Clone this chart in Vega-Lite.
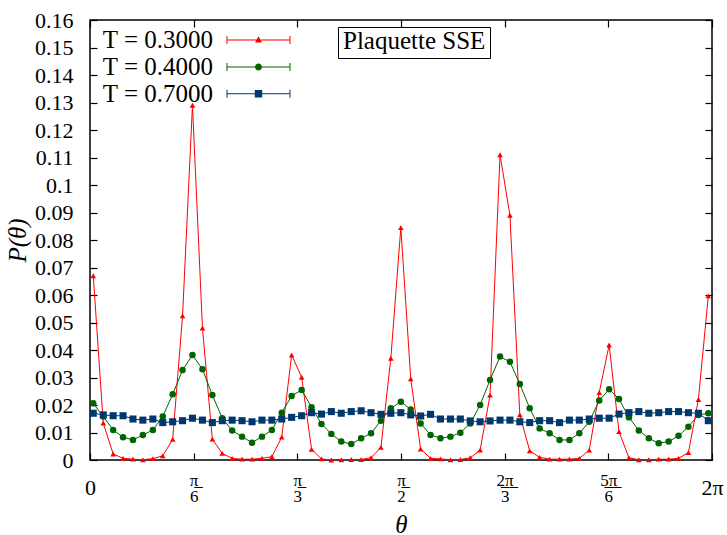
{
  "$schema": "https://vega.github.io/schema/vega-lite/v6.json",
  "width": 622,
  "height": 440,
  "autosize": {"type": "none"},
  "padding": {"left": 90, "top": 20, "right": 15, "bottom": 75},
  "config": {
    "view": {"stroke": "black", "strokeWidth": 1.5},
    "font": "Liberation Serif"
  },
  "data": {"values": [
    {"s":"r","t":0.033,"p":0.067},{"s":"r","t":0.134,"p":0.0134},{"s":"r","t":0.234,"p":0.0022},{"s":"r","t":0.334,"p":0.0006},{"s":"r","t":0.434,"p":0.0003},{"s":"r","t":0.534,"p":0.0001},{"s":"r","t":0.635,"p":0.0005},{"s":"r","t":0.735,"p":0.0015},{"s":"r","t":0.835,"p":0.0075},{"s":"r","t":0.935,"p":0.0524},
    {"s":"r","t":1.035,"p":0.129},{"s":"r","t":1.136,"p":0.048},{"s":"r","t":1.236,"p":0.0076},{"s":"r","t":1.336,"p":0.0024},{"s":"r","t":1.436,"p":0.0006},{"s":"r","t":1.536,"p":0.0003},{"s":"r","t":1.637,"p":0.0003},{"s":"r","t":1.737,"p":0.0006},{"s":"r","t":1.837,"p":0.0012},{"s":"r","t":1.937,"p":0.0083},
    {"s":"r","t":2.037,"p":0.0382},{"s":"r","t":2.138,"p":0.0301},{"s":"r","t":2.238,"p":0.0039},{"s":"r","t":2.338,"p":0.0004},{"s":"r","t":2.438,"p":0.0},{"s":"r","t":2.538,"p":0.0001},{"s":"r","t":2.639,"p":0.0002},{"s":"r","t":2.739,"p":0.0002},{"s":"r","t":2.839,"p":0.0008},{"s":"r","t":2.939,"p":0.0046},
    {"s":"r","t":3.039,"p":0.037},{"s":"r","t":3.140,"p":0.0845},{"s":"r","t":3.240,"p":0.0295},{"s":"r","t":3.340,"p":0.004},{"s":"r","t":3.440,"p":0.0006},{"s":"r","t":3.540,"p":0.0004},{"s":"r","t":3.641,"p":0.0001},{"s":"r","t":3.741,"p":0.0002},{"s":"r","t":3.841,"p":0.0008},{"s":"r","t":3.941,"p":0.0036},
    {"s":"r","t":4.041,"p":0.0236},{"s":"r","t":4.142,"p":0.111},{"s":"r","t":4.242,"p":0.089},{"s":"r","t":4.342,"p":0.0164},{"s":"r","t":4.442,"p":0.0033},{"s":"r","t":4.542,"p":0.001},{"s":"r","t":4.643,"p":0.0003},{"s":"r","t":4.743,"p":0.0003},{"s":"r","t":4.843,"p":0.0003},{"s":"r","t":4.943,"p":0.0006},
    {"s":"r","t":5.043,"p":0.0036},{"s":"r","t":5.144,"p":0.0245},{"s":"r","t":5.244,"p":0.0418},{"s":"r","t":5.344,"p":0.0103},{"s":"r","t":5.444,"p":0.0008},{"s":"r","t":5.544,"p":0.0001},{"s":"r","t":5.645,"p":0.0001},{"s":"r","t":5.745,"p":0.0003},{"s":"r","t":5.845,"p":0.0003},{"s":"r","t":5.945,"p":0.0006},
    {"s":"r","t":6.045,"p":0.0027},{"s":"r","t":6.146,"p":0.022},{"s":"r","t":6.246,"p":0.0597},
    {"s":"g","t":0.033,"p":0.0206},{"s":"g","t":0.134,"p":0.0158},{"s":"g","t":0.234,"p":0.0109},{"s":"g","t":0.334,"p":0.0083},{"s":"g","t":0.434,"p":0.0073},{"s":"g","t":0.534,"p":0.0091},{"s":"g","t":0.635,"p":0.0109},{"s":"g","t":0.735,"p":0.0158},{"s":"g","t":0.835,"p":0.0239},{"s":"g","t":0.935,"p":0.0327},
    {"s":"g","t":1.035,"p":0.0382},{"s":"g","t":1.136,"p":0.033},{"s":"g","t":1.236,"p":0.0236},{"s":"g","t":1.336,"p":0.0152},{"s":"g","t":1.436,"p":0.0107},{"s":"g","t":1.536,"p":0.0085},{"s":"g","t":1.637,"p":0.0063},{"s":"g","t":1.737,"p":0.0085},{"s":"g","t":1.837,"p":0.0109},{"s":"g","t":1.937,"p":0.0172},
    {"s":"g","t":2.037,"p":0.0233},{"s":"g","t":2.138,"p":0.0255},{"s":"g","t":2.238,"p":0.0192},{"s":"g","t":2.338,"p":0.0131},{"s":"g","t":2.438,"p":0.0095},{"s":"g","t":2.538,"p":0.0067},{"s":"g","t":2.639,"p":0.0058},{"s":"g","t":2.739,"p":0.0079},{"s":"g","t":2.839,"p":0.0097},{"s":"g","t":2.939,"p":0.0143},
    {"s":"g","t":3.039,"p":0.0188},{"s":"g","t":3.140,"p":0.0212},{"s":"g","t":3.240,"p":0.0184},{"s":"g","t":3.340,"p":0.0133},{"s":"g","t":3.440,"p":0.0091},{"s":"g","t":3.540,"p":0.0079},{"s":"g","t":3.641,"p":0.0085},{"s":"g","t":3.741,"p":0.0099},{"s":"g","t":3.841,"p":0.0133},{"s":"g","t":3.941,"p":0.02},
    {"s":"g","t":4.041,"p":0.0291},{"s":"g","t":4.142,"p":0.0376},{"s":"g","t":4.242,"p":0.0357},{"s":"g","t":4.342,"p":0.0276},{"s":"g","t":4.442,"p":0.0188},{"s":"g","t":4.542,"p":0.0115},{"s":"g","t":4.643,"p":0.0097},{"s":"g","t":4.743,"p":0.0073},{"s":"g","t":4.843,"p":0.0073},{"s":"g","t":4.943,"p":0.0097},
    {"s":"g","t":5.043,"p":0.0139},{"s":"g","t":5.144,"p":0.0216},{"s":"g","t":5.244,"p":0.0257},{"s":"g","t":5.344,"p":0.0222},{"s":"g","t":5.444,"p":0.0155},{"s":"g","t":5.544,"p":0.0107},{"s":"g","t":5.645,"p":0.0079},{"s":"g","t":5.745,"p":0.0061},{"s":"g","t":5.845,"p":0.0067},{"s":"g","t":5.945,"p":0.0088},
    {"s":"g","t":6.045,"p":0.0121},{"s":"g","t":6.146,"p":0.0164},{"s":"g","t":6.246,"p":0.017},
    {"s":"b","t":0.033,"p":0.017},{"s":"b","t":0.134,"p":0.0164},{"s":"b","t":0.234,"p":0.0161},{"s":"b","t":0.334,"p":0.0161},{"s":"b","t":0.434,"p":0.0149},{"s":"b","t":0.534,"p":0.0145},{"s":"b","t":0.635,"p":0.0149},{"s":"b","t":0.735,"p":0.0136},{"s":"b","t":0.835,"p":0.0139},{"s":"b","t":0.935,"p":0.0143},
    {"s":"b","t":1.035,"p":0.0152},{"s":"b","t":1.136,"p":0.0145},{"s":"b","t":1.236,"p":0.0136},{"s":"b","t":1.336,"p":0.0143},{"s":"b","t":1.436,"p":0.0145},{"s":"b","t":1.536,"p":0.0143},{"s":"b","t":1.637,"p":0.0139},{"s":"b","t":1.737,"p":0.0145},{"s":"b","t":1.837,"p":0.0145},{"s":"b","t":1.937,"p":0.0149},
    {"s":"b","t":2.037,"p":0.0155},{"s":"b","t":2.138,"p":0.0161},{"s":"b","t":2.238,"p":0.0172},{"s":"b","t":2.338,"p":0.0167},{"s":"b","t":2.438,"p":0.0176},{"s":"b","t":2.538,"p":0.017},{"s":"b","t":2.639,"p":0.0176},{"s":"b","t":2.739,"p":0.0179},{"s":"b","t":2.839,"p":0.0172},{"s":"b","t":2.939,"p":0.0166},
    {"s":"b","t":3.039,"p":0.017},{"s":"b","t":3.140,"p":0.0172},{"s":"b","t":3.240,"p":0.0164},{"s":"b","t":3.340,"p":0.016},{"s":"b","t":3.440,"p":0.0166},{"s":"b","t":3.540,"p":0.0149},{"s":"b","t":3.641,"p":0.0149},{"s":"b","t":3.741,"p":0.0149},{"s":"b","t":3.841,"p":0.0142},{"s":"b","t":3.941,"p":0.0139},
    {"s":"b","t":4.041,"p":0.0142},{"s":"b","t":4.142,"p":0.0145},{"s":"b","t":4.242,"p":0.0145},{"s":"b","t":4.342,"p":0.0139},{"s":"b","t":4.442,"p":0.0136},{"s":"b","t":4.542,"p":0.0143},{"s":"b","t":4.643,"p":0.0143},{"s":"b","t":4.743,"p":0.0136},{"s":"b","t":4.843,"p":0.0145},{"s":"b","t":4.943,"p":0.0145},
    {"s":"b","t":5.043,"p":0.0149},{"s":"b","t":5.144,"p":0.0152},{"s":"b","t":5.244,"p":0.0152},{"s":"b","t":5.344,"p":0.0167},{"s":"b","t":5.444,"p":0.0172},{"s":"b","t":5.544,"p":0.0176},{"s":"b","t":5.645,"p":0.017},{"s":"b","t":5.745,"p":0.0172},{"s":"b","t":5.845,"p":0.0176},{"s":"b","t":5.945,"p":0.0176},
    {"s":"b","t":6.045,"p":0.0172},{"s":"b","t":6.146,"p":0.017},{"s":"b","t":6.246,"p":0.0143}
  ]},
  "layer": [
    {
      "mark": {"type": "line", "strokeWidth": 1, "clip": true},
      "encoding": {
        "x": {"field": "t", "type": "quantitative",
          "scale": {"domain": [0, 6.2832], "nice": false, "zero": false},
          "axis": {"orient": "bottom", "values": [0, 1.0472, 2.0944, 3.1416, 4.1888, 5.236, 6.2832],
            "domain": false, "grid": false, "tickColor": "black", "tickWidth": 1.2, "tickSize": -7,
            "labelExpr": "['0', ['π̲','6'], ['π̲','3'], ['π̲','2'], ['2̲π̲','3'], ['5̲π̲','6'], '2π'][round(datum.value*3/PI)]",
            "labelFont": "Liberation Serif", "labelColor": "black",
            "labelFontSize": {"condition": {"test": "datum.value < 0.5 || datum.value > 6", "value": 22}, "value": 17},
            "labelPadding": {"condition": {"test": "datum.value < 0.5 || datum.value > 6", "value": 34}, "value": 27},
            "labelLineHeight": 16, "labelBaseline": "middle", "labelFlush": false, "labelOverlap": false,
            "title": "θ", "titleFont": "Liberation Serif", "titleFontSize": 25, "titleFontStyle": "italic",
            "titleFontWeight": "normal", "titleColor": "black", "titlePadding": 8}},
        "y": {"field": "p", "type": "quantitative",
          "scale": {"domain": [0, 0.16], "nice": false},
          "axis": {"orient": "left", "values": [0,0.01,0.02,0.03,0.04,0.05,0.06,0.07,0.08,0.09,0.1,0.11,0.12,0.13,0.14,0.15,0.16],
            "format": ".2~f", "domain": false, "grid": false, "tickColor": "black", "tickWidth": 1.2, "tickSize": -7,
            "labelFont": "Liberation Serif", "labelColor": "black", "labelFontSize": 22, "labelPadding": 24,
            "labelFlush": false, "labelOverlap": false,
            "title": "P(θ)", "titleFont": "Liberation Serif", "titleFontSize": 25, "titleFontStyle": "italic",
            "titleFontWeight": "normal", "titleColor": "black", "titlePadding": 4}},
        "color": {"field": "s", "type": "nominal",
          "scale": {"domain": ["b", "g", "r"], "range": ["#00386e", "#006400", "#ff0000"]},
          "legend": null}
      }
    },
    {
      "transform": [{"filter": "datum.s == 'r'"}],
      "mark": {"type": "point", "filled": true, "opacity": 1, "shape": "triangle-up", "size": 32},
      "encoding": {
        "x": {"field": "t", "type": "quantitative", "axis": null},
        "y": {"field": "p", "type": "quantitative", "axis": null},
        "color": {"field": "s", "type": "nominal", "legend": null}
      }
    },
    {
      "transform": [{"filter": "datum.s == 'g'"}],
      "mark": {"type": "point", "filled": true, "opacity": 1, "shape": "circle", "size": 42},
      "encoding": {
        "x": {"field": "t", "type": "quantitative", "axis": null},
        "y": {"field": "p", "type": "quantitative", "axis": null},
        "color": {"field": "s", "type": "nominal", "legend": null}
      }
    },
    {
      "transform": [{"filter": "datum.s == 'b'"}],
      "mark": {"type": "point", "filled": true, "opacity": 1, "shape": "square", "size": 50},
      "encoding": {
        "x": {"field": "t", "type": "quantitative", "axis": null},
        "y": {"field": "p", "type": "quantitative", "axis": null},
        "color": {"field": "s", "type": "nominal", "legend": null}
      }
    },
    {
      "mark": {"type": "point", "filled": true, "opacity": 0},
      "encoding": {
        "x": {"field": "t", "type": "quantitative",
          "axis": {"orient": "top", "values": [0, 1.0472, 2.0944, 3.1416, 4.1888, 5.236, 6.2832],
            "labels": false, "title": null, "domain": false, "grid": false,
            "tickColor": "black", "tickWidth": 1.2, "tickSize": -7}},
        "y": {"field": "p", "type": "quantitative",
          "axis": {"orient": "right", "values": [0,0.01,0.02,0.03,0.04,0.05,0.06,0.07,0.08,0.09,0.1,0.11,0.12,0.13,0.14,0.15,0.16],
            "labels": false, "title": null, "domain": false, "grid": false,
            "tickColor": "black", "tickWidth": 1.2, "tickSize": -7}},
        "fill": {"field": "s", "type": "nominal",
          "scale": {"domain": ["r", "g", "b"], "range": ["#ff0000", "#006400", "#00386e"]},
          "legend": {"orient": "none", "legendX": 156, "legendY": 7.5, "title": null, "padding": 0,
            "symbolSize": 100, "symbolStrokeWidth": 0, "symbolOpacity": 1, "rowPadding": 0.9,
            "labelAlign": "right", "labelOffset": -58, "labelFont": "Liberation Serif", "labelFontSize": 25,
            "labelColor": "black", "labelLimit": 300,
            "labelExpr": "datum.value == 'r' ? 'T = 0.3000' : datum.value == 'g' ? 'T = 0.4000' : 'T = 0.7000'"}},
        "shape": {"field": "s", "type": "nominal",
          "scale": {"domain": ["r", "g", "b"], "range": [
            "M-6.3,-0.1H6.3V0.1H-6.3ZM-6.4,-0.8H-6.2V0.8H-6.4ZM6.2,-0.8H6.4V0.8H6.2ZM0,-0.75L0.7,0.5L-0.7,0.5Z",
            "M-6.3,-0.1H6.3V0.1H-6.3ZM-6.4,-0.8H-6.2V0.8H-6.4ZM6.2,-0.8H6.4V0.8H6.2ZM0.7,0A0.7,0.7 0 1,1 -0.7,0A0.7,0.7 0 1,1 0.7,0Z",
            "M-6.3,-0.1H6.3V0.1H-6.3ZM-6.4,-0.8H-6.2V0.8H-6.4ZM6.2,-0.8H6.4V0.8H6.2ZM-0.74,-0.74H0.74V0.74H-0.74Z"]},
          "legend": {"orient": "none", "legendX": 156, "legendY": 7.5, "title": null, "padding": 0,
            "symbolSize": 100, "symbolStrokeWidth": 0, "symbolOpacity": 1, "rowPadding": 0.9,
            "labelAlign": "right", "labelOffset": -58, "labelFont": "Liberation Serif", "labelFontSize": 25,
            "labelColor": "black", "labelLimit": 300,
            "labelExpr": "datum.value == 'r' ? 'T = 0.3000' : datum.value == 'g' ? 'T = 0.4000' : 'T = 0.7000'"}}
      }
    },
    {
      "data": {"values": [{"lab": "Plaquette SSE"}]},
      "mark": {"type": "point", "opacity": 0, "shape": "M0,0Z"},
      "encoding": {
        "strokeDash": {"field": "lab", "type": "nominal",
          "legend": {"orient": "none", "legendX": 248, "legendY": 7, "title": null,
            "strokeColor": "black", "padding": 4, "symbolSize": 1, "symbolStrokeWidth": 0, "symbolOpacity": 0,
            "symbolType": "M0,0Z", "symbolFillColor": "transparent", "symbolStrokeColor": "transparent",
            "clipHeight": 20, "labelOffset": -24, "labelFont": "Liberation Serif", "labelFontSize": 25,
            "labelColor": "black", "labelExpr": "datum.label + ' '", "labelLimit": 300}}
      }
    }
  ],
  "resolve": {"axis": {"x": "independent", "y": "independent"}}
}
